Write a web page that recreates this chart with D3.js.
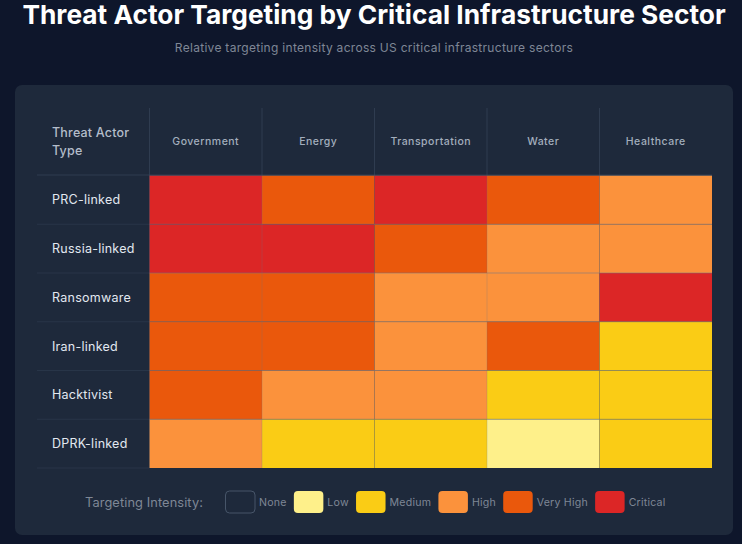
<!DOCTYPE html>
<html>
<head>
<meta charset="utf-8">
<script src="https://cdn.jsdelivr.net/npm/d3@7"></script>
<style>
  html, body { margin: 0; padding: 0; background: #0f172a; overflow: hidden; }
  svg { display: block; font-family: Inter, "Noto Sans", sans-serif; }
</style>
</head>
<body>
<svg id="chart" width="742" height="544"></svg>
<script>
const titleText = "Threat Actor Targeting by Critical Infrastructure Sector";
const subtitleText = "Relative targeting intensity across US critical infrastructure sectors";
const cornerLabel = ["Threat Actor", "Type"];
const legendTitle = "Targeting Intensity:";

const sectors = ["Government", "Energy", "Transportation", "Water", "Healthcare"];
const actors = ["PRC-linked", "Russia-linked", "Ransomware", "Iran-linked", "Hacktivist", "DPRK-linked"];
const levels = ["None", "Low", "Medium", "High", "Very High", "Critical"];
const levelColors = ["#1e293b", "#fef08a", "#facc15", "#fb923c", "#ea580c", "#dc2626"];

const prcLinked = ["Critical", "Very High", "Critical", "Very High", "High"];
const russiaLinked = ["Critical", "Critical", "Very High", "High", "High"];
const ransomware = ["Very High", "Very High", "High", "High", "Critical"];
const iranLinked = ["Very High", "Very High", "High", "Very High", "Medium"];
const hacktivist = ["Very High", "High", "High", "Medium", "Medium"];
const dprkLinked = ["High", "Medium", "Medium", "Low", "Medium"];
const intensity = [prcLinked, russiaLinked, ransomware, iranLinked, hacktivist, dprkLinked];

const WIDTH = 742, HEIGHT = 544;
const SVG = d3.select("#chart");

SVG.append("rect").attr("width", WIDTH).attr("height", HEIGHT).attr("fill", "#0e162b");

// HEADINGS
SVG.append("text")
  .attr("x", 374).attr("y", 24)
  .attr("text-anchor", "middle")
  .attr("fill", "#ffffff")
  .style("font-size", "26.3px")
  .style("font-weight", 700)
  .text(titleText);

SVG.append("text")
  .attr("x", 374).attr("y", 51.5)
  .attr("text-anchor", "middle")
  .attr("fill", "#7f8796")
  .style("font-size", "12px")
  .style("letter-spacing", "0.29px")
  .text(subtitleText);

// PANEL
SVG.append("rect")
  .attr("x", 15).attr("y", 85)
  .attr("width", 718).attr("height", 450)
  .attr("rx", 7)
  .attr("fill", "#1e293b");

// SCALES
const X = d3.scaleBand().domain(sectors).range([149.5, 712]);
const Y = d3.scaleBand().domain(actors).range([175.5, 468]);
const COLOR = d3.scaleOrdinal().domain(levels).range(levelColors);

const TABLE_LEFT = 37, HEADER_TOP = 108;
const gridColor = "#334155";

// ROW AND COLUMN RULES
SVG.append("g").selectAll("line")
  .data(actors)
  .join("line")
  .attr("x1", TABLE_LEFT).attr("x2", 149.5)
  .attr("y1", (d) => Y(d) + Y.bandwidth())
  .attr("y2", (d) => Y(d) + Y.bandwidth())
  .attr("stroke", "#2b384b").attr("stroke-width", 0.8);

SVG.append("line")
  .attr("x1", TABLE_LEFT).attr("x2", 149.5)
  .attr("y1", 175).attr("y2", 175)
  .attr("stroke", gridColor).attr("stroke-width", 0.8);

SVG.append("g").selectAll("line")
  .data(sectors)
  .join("line")
  .attr("x1", (d) => X(d)).attr("x2", (d) => X(d))
  .attr("y1", HEADER_TOP).attr("y2", 175.5)
  .attr("stroke", gridColor).attr("stroke-width", 0.8);

// CELLS
const rowsG = SVG.append("g").selectAll("g")
  .data(actors)
  .join("g")
  .attr("transform", (d) => `translate(0,${Y(d)})`);

rowsG.selectAll("rect")
  .data((d, i) => intensity[i].map((level, j) => ({ level, sector: sectors[j] })))
  .join("rect")
  .attr("x", (d) => X(d.sector))
  .attr("y", 0)
  .attr("width", X.bandwidth())
  .attr("height", Y.bandwidth())
  .attr("fill", (d) => COLOR(d.level));

// SEPARATORS OVER THE CELLS
SVG.append("g").selectAll("line")
  .data(actors.slice(1))
  .join("line")
  .attr("x1", 149.5).attr("x2", 712)
  .attr("y1", (d) => Y(d)).attr("y2", (d) => Y(d))
  .attr("stroke", "rgba(100,116,139,0.5)").attr("stroke-width", 1);

SVG.append("g").selectAll("line")
  .data(sectors)
  .join("line")
  .attr("x1", (d) => X(d)).attr("x2", (d) => X(d))
  .attr("y1", 175.5).attr("y2", 468)
  .attr("stroke", "rgba(100,116,139,0.3)").attr("stroke-width", 0.8);

// HEADER LINE ABOVE CELLS
SVG.append("line")
  .attr("x1", 149.5).attr("x2", 712)
  .attr("y1", 175.2).attr("y2", 175.2)
  .attr("stroke", "#475569").attr("stroke-width", 0.8);

// COLUMN LABELS
SVG.append("g").selectAll("text")
  .data(sectors)
  .join("text")
  .attr("x", (d) => X(d) + X.bandwidth() / 2)
  .attr("y", 145)
  .attr("text-anchor", "middle")
  .attr("fill", "#a3aebd")
  .style("font-size", "10.5px")
  .style("font-weight", 500)
  .style("letter-spacing", "0.5px")
  .text((d) => d);

// ROW LABELS
SVG.append("g").selectAll("text")
  .data(actors)
  .join("text")
  .attr("x", 52)
  .attr("y", (d) => Y(d) + Y.bandwidth() / 2 + 4.5)
  .attr("fill", "#e2e8f0")
  .style("font-size", "12.5px")
  .style("font-weight", 400)
  .style("letter-spacing", "0.25px")
  .text((d) => d);

SVG.append("g").selectAll("text")
  .data(cornerLabel)
  .join("text")
  .attr("x", 52)
  .attr("y", (d, i) => 136.5 + i * 18.5)
  .attr("fill", "#b4bdca")
  .style("font-size", "12.5px")
  .style("font-weight", 500)
  .style("letter-spacing", "0.2px")
  .text((d) => d);

// LEGEND
const LEGEND_Y = 491, SWATCH_W = 29.5, SWATCH_H = 22;
SVG.append("text")
  .attr("x", 85).attr("y", LEGEND_Y + 15.5)
  .attr("fill", "#7f8796")
  .style("font-size", "12.8px")
  .style("font-weight", 400)
  .style("letter-spacing", "0.1px")
  .text(legendTitle);

const legendG = SVG.append("g");
let cursor = 225.5;
levels.forEach((level) => {
  const isNone = level === "None";
  legendG.append("rect")
    .attr("x", cursor).attr("y", LEGEND_Y)
    .attr("width", SWATCH_W).attr("height", SWATCH_H)
    .attr("rx", 4)
    .attr("fill", COLOR(level))
    .attr("stroke", isNone ? "#475569" : "none");
  const label = legendG.append("text")
    .attr("x", cursor + SWATCH_W + 4)
    .attr("y", LEGEND_Y + 15)
    .attr("fill", "#7f8796")
    .style("font-size", "10.6px")
    .style("letter-spacing", "0.22px")
    .text(level);
  cursor += SWATCH_W + 4 + label.node().getComputedTextLength() + 7.2;
});
</script>
</body>
</html>
